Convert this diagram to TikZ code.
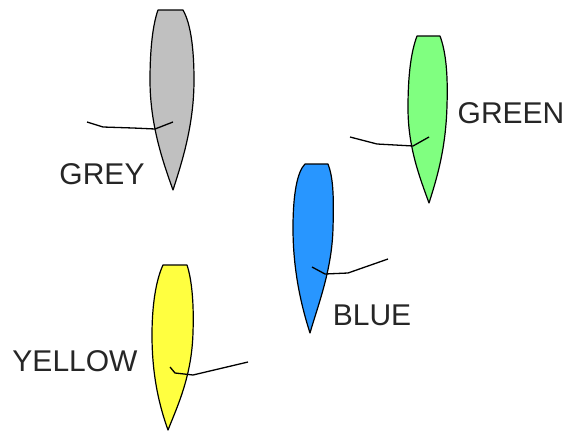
\documentclass[tikz,border=0pt]{standalone}
\usepackage{fontspec}
\setmainfont{Liberation Sans}
\definecolor{leafgrey}{RGB}{192,192,192}
\definecolor{leafgreen}{RGB}{128,255,128}
\definecolor{leafblue}{RGB}{40,150,255}
\definecolor{leafyellow}{RGB}{255,255,64}
\begin{document}
\begin{tikzpicture}[x=1pt,y=-1pt,
  leaf/.style={draw=black,line width=1.2pt,line join=round},
  stem/.style={draw=black,line width=1.3pt,line join=round},
  lbl/.style={font=\fontsize{30}{30}\selectfont,inner sep=0pt,text=black!85}]
\useasboundingbox (0,0) rectangle (570,431);
% grey
\path[leaf,fill=leafgrey] (158,10) -- (183,10)
  .. controls (191,24) and (194,50) .. (194,80)
  .. controls (194,125) and (182,162) .. (173,190)
  .. controls (163,162) and (150,125) .. (150,80)
  .. controls (150,48) and (153,24) .. (158,10) -- cycle;
\coordinate (gs1) at (87,122); \coordinate (gs2) at (173,122);
\draw[stem] (gs1) -- (103,127) -- (133,128) -- (155,129) -- (gs2);
\node[lbl] (grey) at (102,174) {GREY};
% green
\path[leaf,fill=leafgreen] (417,36) -- (440,36)
  .. controls (446,52) and (448,75) .. (447,105)
  .. controls (446,148) and (437,178) .. (429,203)
  .. controls (420,178) and (408,148) .. (408,108)
  .. controls (408,75) and (411,52) .. (417,36) -- cycle;
\coordinate (ns1) at (350,137); \coordinate (ns2) at (429,137);
\draw[stem] (ns1) -- (377,144) -- (413,146) -- (ns2);
\node[lbl] (green) at (511,113) {GREEN};
% blue
\path[leaf,fill=leafblue] (305,164) -- (328,164)
  .. controls (333,177) and (334,195) .. (333,228)
  .. controls (332,270) and (318,305) .. (310,333)
  .. controls (301,305) and (293,270) .. (293,228)
  .. controls (293,195) and (297,172) .. (305,164) -- cycle;
\coordinate (bs1) at (312,267); \coordinate (bs2) at (388,259);
\draw[stem] (bs1) -- (325,274) -- (348,273) -- (bs2);
\node[lbl] (blue) at (372,315) {BLUE};
% yellow
\path[leaf,fill=leafyellow] (163,265) -- (187,265)
  .. controls (192,280) and (194,305) .. (193,332)
  .. controls (192,375) and (178,405) .. (168,430)
  .. controls (159,405) and (152,375) .. (152,335)
  .. controls (152,305) and (156,280) .. (163,265) -- cycle;
\coordinate (ys1) at (170,367); \coordinate (ys2) at (248,362);
\draw[stem] (ys1) -- (175,373) -- (193,375) -- (ys2);
\node[lbl] (yellow) at (75,361) {YELLOW};
\end{tikzpicture}
\end{document}
